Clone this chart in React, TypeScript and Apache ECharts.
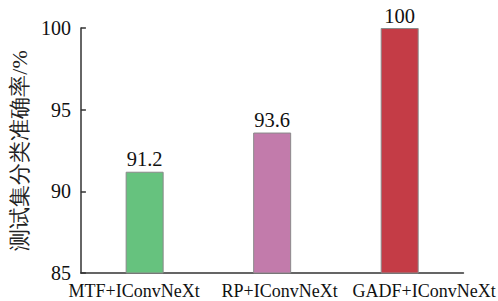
import React, { useEffect, useRef } from "react";
import * as echarts from "echarts";

const categories = ["MTF+IConvNeXt", "RP+IConvNeXt", "GADF+IConvNeXt"];
const values = [91.2, 93.6, 100];
const barColors = ["#66c27e", "#c27bab", "#c43c46"];
const yTicks = [85, 90, 95, 100];
const yAxisName = "测试集分类准确率/%";

export default function App() {
  const ref = useRef<HTMLDivElement>(null);
  useEffect(() => {
    if (!ref.current) return;
    const chart = echarts.init(ref.current, null, { renderer: "svg" });
    const font = "Times New Roman, Liberation Serif, serif";
    const txt = (size: number) => ({ fontSize: size, fontFamily: font, color: "#111" });
    chart.setOption({
      animation: false,
      backgroundColor: "#ffffff",
      grid: { left: 78, right: 33, top: 28, bottom: 28 },
      xAxis: {
        type: "category",
        data: categories,
        axisLine: { show: true, lineStyle: { color: "#333", width: 1.5 } },
        axisTick: { show: false },
        axisLabel: {
          ...txt(18),
          margin: 9,
          interval: 0,
          formatter: (v: string, i: number) => `{c${i}|${v}}`,
          rich: {
            c0: { ...txt(18), padding: [0, 21, 0, 0] },
            c1: { ...txt(18), padding: [0, 0, 0, 15] },
            c2: { ...txt(18), padding: [0, 0, 0, 49] },
          },
        },
      },
      yAxis: {
        type: "value",
        min: yTicks[0],
        max: yTicks[yTicks.length - 1],
        interval: 5,
        name: yAxisName,
        nameLocation: "middle",
        nameGap: 46,
        nameTextStyle: { ...txt(22), color: "#222" },
        splitLine: { show: false },
        axisLine: { show: true, lineStyle: { color: "#333", width: 1.5 } },
        axisTick: { show: true, inside: true, length: 5, lineStyle: { color: "#333", width: 1.5 } },
        axisLabel: { ...txt(20), margin: 10 },
      },
      series: [
        {
          type: "bar",
          barWidth: 38,
          data: values.map((v, i) => ({
            value: v,
            itemStyle: { color: barColors[i], borderColor: "#8a8a8a", borderWidth: 1 },
          })),
          label: { show: true, position: "top", distance: 2, ...txt(20.5) },
        },
      ],
    });
    return () => chart.dispose();
  }, []);
  return (
    <div
      ref={ref}
      style={{ position: "fixed", left: 0, top: 0, width: 498, height: 301 }}
    />
  );
}
